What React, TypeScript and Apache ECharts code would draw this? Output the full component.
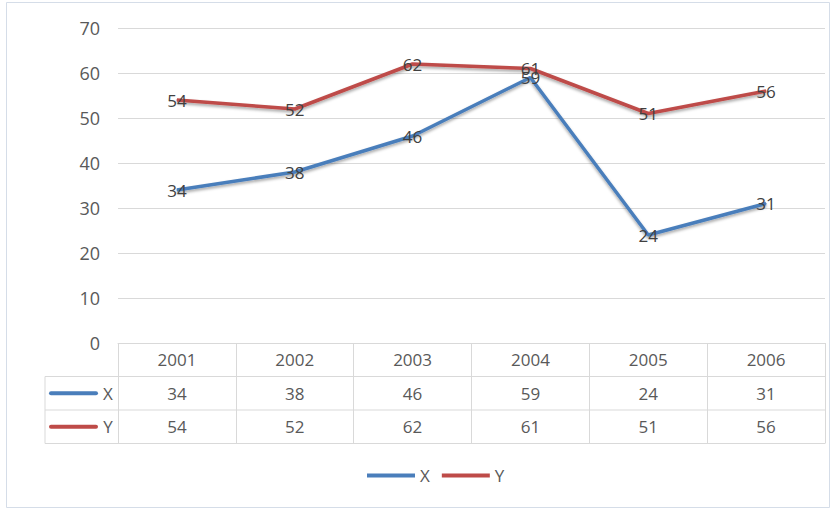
import React, { useEffect, useRef } from "react";
import * as echarts from "echarts";

const categories = ["2001", "2002", "2003", "2004", "2005", "2006"];
const seriesNames = ["X", "Y"];
const xValues = [34, 38, 46, 59, 24, 31];
const yValues = [54, 52, 62, 61, 51, 56];
const yTicks = { min: 0, max: 70, interval: 10 };

const BLUE = "#4a7ebb";
const RED = "#be4b48";
const GRID = "#d9d9d9";
const TEXT = "#595959";
const FONT = "Open Sans";
const FS = 17;

export default function App() {
  const ref = useRef<HTMLDivElement>(null);
  useEffect(() => {
    document.body.style.margin = "0";
    const chart = echarts.init(ref.current!, null, { renderer: "svg" });
    const W = 838;
    const gridLeft = 118;
    const gridRight = 825;
    const gridTop = 28;
    const gridBottom = 343;
    const rowH = 33.5;
    const tableLeft = 45;
    const rowLines = [1, 2, 3].map((i) => gridBottom + rowH * i);
    const colors = [BLUE, RED];
    const labelStyle = { color: TEXT, fontSize: FS, fontFamily: FONT };

    const tableGraphics: any[] = [];
    rowLines.forEach((y) => {
      tableGraphics.push({
        type: "line",
        shape: { x1: tableLeft, y1: y, x2: gridRight, y2: y },
        style: { stroke: GRID, lineWidth: 1 },
      });
    });
    tableGraphics.push({
      type: "line",
      shape: { x1: tableLeft, y1: rowLines[0], x2: tableLeft, y2: rowLines[2] },
      style: { stroke: GRID, lineWidth: 1 },
    });
    seriesNames.forEach((name, i) => {
      const cy = rowLines[i] + rowH / 2;
      tableGraphics.push({
        type: "line",
        shape: { x1: 51, y1: cy, x2: 96, y2: cy },
        style: { stroke: colors[i], lineWidth: 4, lineCap: "round" },
      });
      tableGraphics.push({
        type: "text",
        x: 108,
        y: cy,
        style: {
          text: name,
          fill: TEXT,
          fontSize: FS,
          fontFamily: FONT,
          align: "center",
          verticalAlign: "middle",
        },
      });
    });
    tableGraphics.push({
      type: "rect",
      shape: { x: 6.5, y: 2.5, width: 823, height: 505 },
      style: { fill: "none", stroke: "#d5dde8", lineWidth: 1 },
      silent: true,
    });

    const valueAxis = (data: number[], offset: number) => ({
      type: "category",
      data: data.map(String),
      position: "bottom",
      offset,
      axisLine: { show: false },
      axisTick: { show: false },
      axisLabel: { ...labelStyle, margin: 8, interval: 0 },
    });

    chart.setOption({
      animation: false,
      backgroundColor: "#ffffff",
      grid: {
        left: gridLeft,
        right: W - gridRight,
        top: gridTop,
        bottom: 512 - gridBottom,
        containLabel: false,
      },
      legend: {
        data: seriesNames,
        top: 462,
        left: 362,
        icon: "rect",
        itemWidth: 48,
        itemHeight: 4,
        itemGap: 12,
        textStyle: { ...labelStyle },
      },
      xAxis: [
        {
          type: "category",
          data: categories,
          boundaryGap: true,
          axisLine: { show: true, lineStyle: { color: GRID, width: 1 } },
          axisTick: {
            show: true,
            interval: 0,
            length: rowH * 3,
            lineStyle: { color: GRID, width: 1 },
          },
          axisLabel: { ...labelStyle, margin: 8, interval: 0 },
        },
        valueAxis(xValues, rowH),
        valueAxis(yValues, rowH * 2),
      ],
      yAxis: {
        type: "value",
        min: yTicks.min,
        max: yTicks.max,
        interval: yTicks.interval,
        axisLine: { show: false },
        axisTick: { show: false },
        axisLabel: { ...labelStyle, fontSize: 18, margin: 18 },
        splitLine: { lineStyle: { color: GRID, width: 1 } },
      },
      series: [xValues, yValues].map((vals, i) => ({
        name: seriesNames[i],
        type: "line",
        xAxisIndex: 0,
        data: vals,
        symbol: "circle",
        symbolSize: 1,
        showSymbol: true,
        lineStyle: {
          color: colors[i],
          width: 3.5,
          shadowColor: "rgba(0,0,0,0.35)",
          shadowBlur: 3,
          shadowOffsetY: 2,
        },
        itemStyle: { color: colors[i] },
        label: {
          show: true,
          position: "inside",
          color: "#404040",
          fontSize: FS,
          fontFamily: FONT,
        },
        labelLayout: { hideOverlap: false },
        z: 3,
      })),
      graphic: tableGraphics,
    });
    return () => chart.dispose();
  }, []);
  return <div ref={ref} style={{ width: 838, height: 512 }} />;
}
